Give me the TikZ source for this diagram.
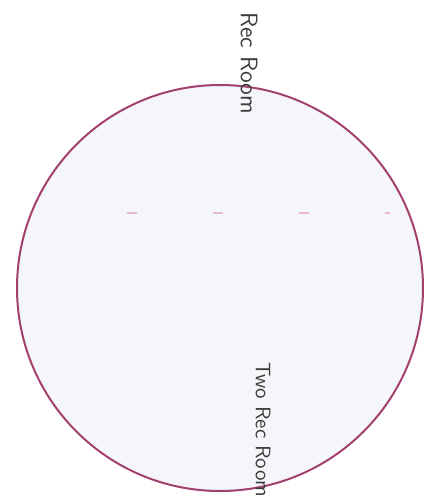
\documentclass[tikz,border=0pt]{standalone}
\usetikzlibrary{positioning}
\definecolor{Rim}{HTML}{A3416E}
\definecolor{Floor}{HTML}{F5F6F9}
\definecolor{Ink}{HTML}{3C3C3C}
\definecolor{Faint}{HTML}{E6B9C9}
\tikzset{
  room/.style={circle,draw=Rim,fill=Floor,line width=1pt,minimum size=203pt,inner sep=0pt},
  tag/.style={rotate=-90,anchor=west,font=\sffamily\large,text=Ink,inner sep=0pt},
  divider/.style={draw=Faint,line width=.8pt,dash pattern=on 5pt off 38pt}
}
\begin{document}
\begin{tikzpicture}[x=.5pt,y=-.5pt]
  \useasboundingbox (0,0) rectangle (435,503);
  \node[room] (hall) at (220,288) {};
  \coordinate (dl) at (127,213);
  \coordinate (dr) at (390,213);
  \draw[divider] (dl) -- (dr);
  \node[tag] (upper) at (249,12) {Rec Room};
  \node[tag,font=\sffamily\fontsize{10.5}{12}\selectfont] (lower) at (263,362) {Two Rec Room};
\end{tikzpicture}
\end{document}
